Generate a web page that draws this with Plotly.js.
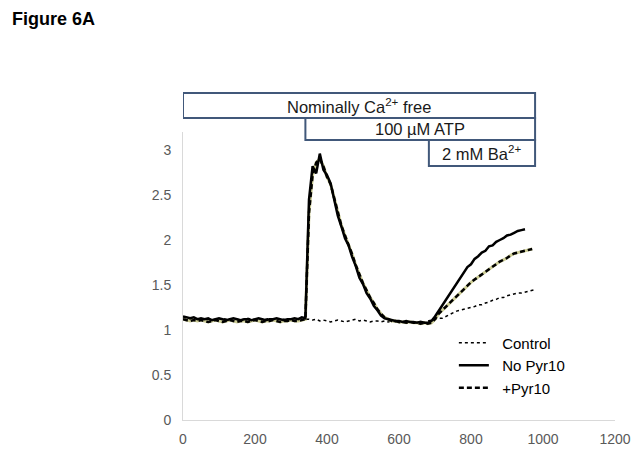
<!DOCTYPE html>
<html>
<head>
<meta charset="utf-8">
<script src="https://cdn.plot.ly/plotly-3.0.1.min.js"></script>
<style>html,body{margin:0;padding:0;background:#fff;}#chart{width:641px;height:452px;}</style>
</head>
<body>
<div id="chart"></div>
<script>
// time (s)
const timeSec = [0,10,20,30,40,50,60,70,80,90,100,110,120,130,140,150,160,170,180,190,
200,210,220,230,240,250,260,270,280,290,300,310,320,330,340,350,360,370,380,390,
400,410,420,430,440,450,460,470,480,490,500,510,520,530,540,550,560,570,580,590,
600,610,620,630,640,650,660,670,680,690,700,710,720,730,740,750,760,770,780,790,
800,810,820,830,840,850,860,870,880,890,900,910,920,930,940,950,960,970,980];

// Control (dotted)
const control = [1.13,1.12,1.12,1.13,1.12,1.11,1.12,1.12,1.11,1.12,1.12,1.13,1.12,1.11,1.12,1.12,1.11,1.12,1.13,1.12,
1.12,1.11,1.12,1.12,1.13,1.12,1.11,1.12,1.12,1.11,1.12,1.12,1.13,1.12,1.12,1.12,1.11,1.12,1.10,1.11,
1.10,1.09,1.10,1.11,1.10,1.09,1.10,1.11,1.12,1.10,1.11,1.10,1.09,1.10,1.10,1.09,1.10,1.09,1.10,1.09,
1.08,1.09,1.08,1.09,1.08,1.09,1.08,1.09,1.10,1.11,1.12,1.13,1.13,1.15,1.17,1.19,1.21,1.22,1.23,1.24,
1.25,1.26,1.28,1.28,1.30,1.31,1.33,1.34,1.36,1.36,1.38,1.39,1.40,1.41,1.41,1.42,1.43,1.44,1.45];

// No Pyr10 (solid)
const noPyr10 = [1.15,1.14,1.13,1.14,1.12,1.13,1.12,1.13,1.11,1.12,1.13,1.12,1.11,1.12,1.13,1.12,1.11,1.12,1.12,1.11,
1.12,1.13,1.12,1.11,1.12,1.12,1.13,1.12,1.11,1.12,1.12,1.13,1.12,1.14,1.13,2.45,2.82,2.74,2.96,2.78,
2.72,2.63,2.44,2.27,2.15,2.02,1.94,1.81,1.71,1.58,1.51,1.41,1.35,1.27,1.22,1.16,1.13,1.12,1.11,1.10,
1.10,1.09,1.10,1.09,1.09,1.08,1.09,1.08,1.08,1.10,1.15,1.21,1.27,1.33,1.40,1.45,1.52,1.57,1.63,1.70,
1.73,1.79,1.82,1.86,1.88,1.93,1.94,1.98,2.00,2.02,2.05,2.06,2.08,2.10,2.11,2.12];

// +Pyr10 (dashed)
const plusPyr10 = [1.12,1.11,1.10,1.11,1.10,1.11,1.10,1.09,1.10,1.11,1.10,1.09,1.10,1.11,1.10,1.09,1.10,1.10,1.09,1.10,
1.11,1.10,1.09,1.10,1.10,1.11,1.10,1.09,1.10,1.10,1.11,1.10,1.10,1.11,1.12,2.30,2.72,2.86,2.90,2.82,
2.70,2.62,2.46,2.30,2.16,2.05,1.95,1.84,1.72,1.61,1.52,1.44,1.36,1.30,1.23,1.18,1.14,1.12,1.10,1.10,
1.09,1.09,1.08,1.09,1.08,1.08,1.07,1.08,1.07,1.08,1.12,1.18,1.22,1.26,1.30,1.34,1.38,1.42,1.46,1.50,
1.53,1.56,1.59,1.62,1.65,1.68,1.71,1.74,1.76,1.78,1.80,1.83,1.85,1.86,1.87,1.88,1.89,1.90];

const xTicks = [0,200,400,600,800,1000,1200];
const yTicks = [0,0.5,1,1.5,2,2.5,3];

// Solution boxes
const boxLabels = ['Nominally Ca<sup>2+</sup> free','100 µM ATP','2 mM Ba<sup>2+</sup>'];
const boxStart = [0,340,683];
const boxEnd = [978,978,978];
const boxBottom = [1.049,0.972,0.882];
const boxTop = [1.135,1.049,0.972];

const NB = '\u00a0\u00a0';
const traces = [
  {x: timeSec, y: control, name: NB + 'Control', type: 'scatter', mode: 'lines',
   line: {color: '#000', width: 1.5, dash: 'dot'}, legendrank: 1},
  {x: timeSec, y: plusPyr10, name: 'under', type: 'scatter', mode: 'lines', showlegend: false,
   line: {color: 'rgb(205,205,150)', width: 3}, hoverinfo: 'skip'},
  {x: timeSec, y: plusPyr10, name: NB + '+Pyr10', type: 'scatter', mode: 'lines',
   line: {color: '#000', width: 2.5, dash: '5px,3px'}, legendrank: 3},
  {x: timeSec, y: noPyr10, name: NB + 'No Pyr10', type: 'scatter', mode: 'lines',
   line: {color: '#000', width: 2.5}, legendrank: 2}
];

const shapes = [];
const annotations = [];
for (let i = 0; i < boxLabels.length; i++) {
  shapes.push({type: 'rect', xref: 'x', yref: 'paper', x0: boxStart[i], x1: boxEnd[i],
    y0: boxBottom[i], y1: boxTop[i], line: {color: '#41587a', width: 2}, fillcolor: '#fff', layer: 'above'});
  annotations.push({xref: 'x', yref: 'paper', x: (boxStart[i] + boxEnd[i]) / 2,
    y: (boxBottom[i] + boxTop[i]) / 2, text: boxLabels[i], showarrow: false,
    font: {family: 'Liberation Sans, Arial, sans-serif', size: 16.5, color: '#1a1a1a'},
    xanchor: 'center', yanchor: 'middle'});
}

const layout = {
  width: 641, height: 452,
  margin: {l: 183, r: 26, t: 132, b: 32},
  paper_bgcolor: '#fff', plot_bgcolor: '#fff',
  font: {family: 'Liberation Sans, Arial, sans-serif', color: '#595959', size: 14},
  title: {text: '<b>Figure 6A</b>', x: 12/641, xanchor: 'left', xref: 'container',
    y: 1 - 19/452, yanchor: 'middle', yref: 'container',
    font: {family: 'Liberation Sans, Arial, sans-serif', size: 18, color: '#000'}},
  xaxis: {range: [0, 1200], tickvals: xTicks, ticktext: xTicks.map(String), showgrid: false, zeroline: false,
    showline: true, linecolor: '#d9d9d9', linewidth: 1, ticks: '', ticklabelstandoff: 6,
    tickfont: {size: 14, color: '#595959'}},
  yaxis: {range: [0, 3.2], tickvals: yTicks, ticktext: yTicks.map(String), showgrid: false, zeroline: false,
    showline: true, linecolor: '#d9d9d9', linewidth: 1, ticks: '', ticklabelstandoff: 8,
    tickfont: {size: 14, color: '#595959'}},
  showlegend: true,
  legend: {x: 0.627, y: 0.325, xanchor: 'left', yanchor: 'top', bgcolor: 'rgba(0,0,0,0)',
    font: {size: 15, color: '#000'}, traceorder: 'normal'},
  shapes: shapes,
  annotations: annotations
};

Plotly.newPlot('chart', traces, layout, {displayModeBar: false, staticPlot: true});
</script>
</body>
</html>
